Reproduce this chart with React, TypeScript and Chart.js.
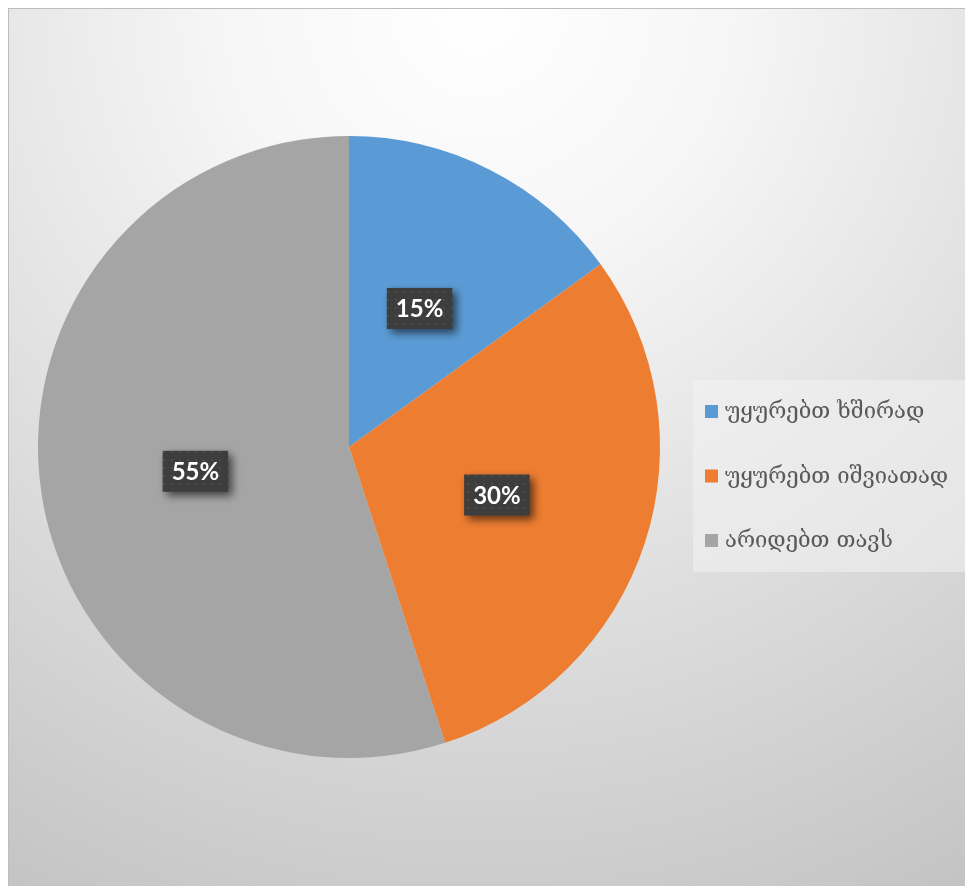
import React, { useEffect, useRef } from "react";
import { Chart, registerables } from "chart.js";

Chart.register(...registerables);

const categories: string[] = ["უყურებთ ხშირად", "უყურებთ იშვიათად", "არიდებთ თავს"];
const values: number[] = [15, 30, 55];
const colors: string[] = ["#5B9BD5", "#ED7D31", "#A5A5A5"];

const W = 965;
const H = 878;

function makePattern(ctx: CanvasRenderingContext2D): CanvasPattern | string {
  const c = document.createElement("canvas");
  c.width = 8;
  c.height = 8;
  const p = c.getContext("2d");
  if (!p) return "#404040";
  p.fillStyle = "#3d3d3d";
  p.fillRect(0, 0, 8, 8);
  p.fillStyle = "#4b4b4b";
  p.fillRect(3, 3, 2, 2);
  p.fillStyle = "#444444";
  p.fillRect(7, 7, 1, 1);
  return ctx.createPattern(c, "repeat") || "#404040";
}

const backgroundPlugin = {
  id: "bgPlugin",
  beforeDraw(chart: any) {
    const ctx: CanvasRenderingContext2D = chart.ctx;
    const w = chart.width;
    const h = chart.height;
    ctx.save();
    const g = ctx.createRadialGradient(470, 0, 0, 470, 0, 1010);
    g.addColorStop(0, "#ffffff");
    g.addColorStop(0.25, "#f6f6f6");
    g.addColorStop(1, "#c3c3c3");
    ctx.fillStyle = g;
    ctx.fillRect(0, 0, w, h);
    ctx.strokeStyle = "#bdbdbd";
    ctx.lineWidth = 1;
    ctx.strokeRect(0.5, 0.5, w + 5, h + 5);
    ctx.restore();
  },
};

const labelPlugin = {
  id: "pctLabels",
  afterDatasetsDraw(chart: any) {
    const ctx: CanvasRenderingContext2D = chart.ctx;
    const meta = chart.getDatasetMeta(0);
    const data: number[] = chart.data.datasets[0].data;
    const total = data.reduce((a, b) => a + b, 0);
    const pattern = makePattern(ctx);
    meta.data.forEach((arc: any, i: number) => {
      const p = arc.getProps(["x", "y", "startAngle", "endAngle", "outerRadius"], true);
      const mid = (p.startAngle + p.endAngle) / 2;
      const r = p.outerRadius * 0.5;
      const cx = p.x + Math.cos(mid) * r;
      const cy = p.y + Math.sin(mid) * r;
      const text = Math.round((data[i] / total) * 100) + "%";
      ctx.save();
      ctx.font = "bold 24px Lato, 'Open Sans', sans-serif";
      const tw = ctx.measureText(text).width;
      const bw = tw + 18;
      const bh = 41;
      ctx.shadowColor = "rgba(0,0,0,0.6)";
      ctx.shadowBlur = 8;
      ctx.shadowOffsetX = 4;
      ctx.shadowOffsetY = 4;
      ctx.fillStyle = pattern as any;
      ctx.fillRect(cx - bw / 2, cy - bh / 2, bw, bh);
      ctx.shadowColor = "transparent";
      ctx.fillStyle = "#ffffff";
      ctx.textAlign = "center";
      ctx.textBaseline = "middle";
      ctx.fillText(text, cx, cy + 1);
      ctx.restore();
    });
  },
};

const legendPlugin = {
  id: "boxLegend",
  afterDraw(chart: any) {
    const ctx: CanvasRenderingContext2D = chart.ctx;
    const labels: string[] = chart.data.labels;
    const bg: string[] = chart.data.datasets[0].backgroundColor;
    const bx = 685;
    const by = 372;
    const bw = 273;
    const bh = 192;
    ctx.save();
    ctx.fillStyle = "rgba(242,242,242,0.55)";
    ctx.fillRect(bx, by, bw, bh);
    ctx.font = "22px 'DejaVu Serif', 'DejaVu Sans', serif";
    ctx.textBaseline = "middle";
    labels.forEach((lab, i) => {
      const cy = by + 31.5 + i * 64.5;
      ctx.fillStyle = bg[i];
      ctx.fillRect(bx + 12, cy - 6.5, 13, 13);
      ctx.fillStyle = "#595959";
      ctx.fillText(lab, bx + 32, cy + 1);
    });
    ctx.restore();
  },
};

export default function App() {
  const ref = useRef<HTMLCanvasElement | null>(null);
  useEffect(() => {
    if (!ref.current) return;
    const chart = new Chart(ref.current, {
      type: "pie",
      data: {
        labels: categories,
        datasets: [
          {
            data: values,
            backgroundColor: colors,
            borderWidth: 0,
          },
        ],
      },
      options: {
        animation: false,
        responsive: false,
        devicePixelRatio: 1,
        layout: { padding: { left: 30, top: 128, right: 313, bottom: 128 } },
        plugins: {
          legend: { display: false },
          tooltip: { enabled: false },
        },
      },
      plugins: [backgroundPlugin, labelPlugin, legendPlugin],
    });
    return () => chart.destroy();
  }, []);
  return (
    <div style={{ width: W, height: H }}>
      <canvas ref={ref} width={W} height={H} style={{ display: "block" }} />
    </div>
  );
}
